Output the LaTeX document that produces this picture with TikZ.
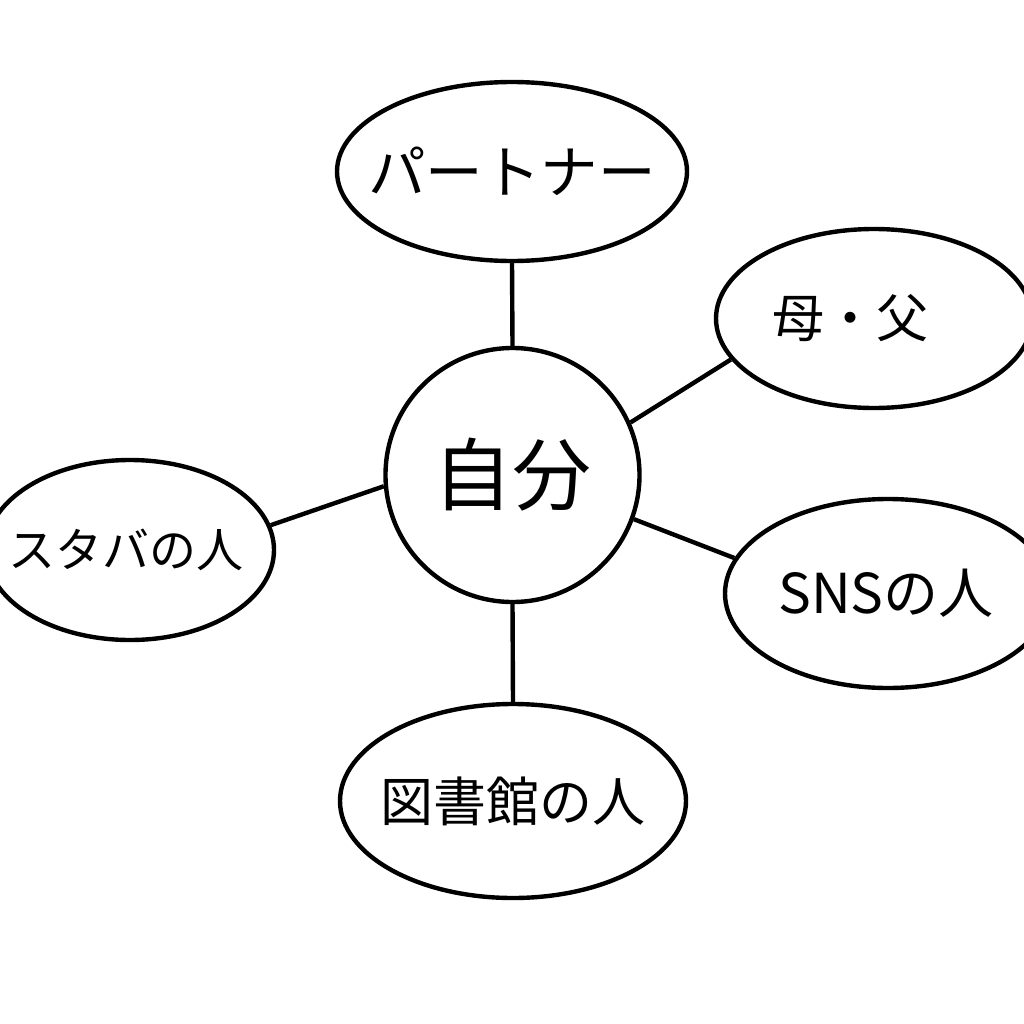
\documentclass[tikz,border=0pt]{standalone}
\usepackage{fontspec}
\setmainfont{Noto Sans CJK JP}
\usetikzlibrary{shapes.geometric}
\newcommand{\zb}[2][0pt]{\makebox[0pt]{\hspace*{#1}#2\hspace*{-#1}}}
\begin{document}
\begin{tikzpicture}[x=1pt,y=-1pt,
  bub/.style={draw=black,line width=4.4pt,ellipse,inner sep=0pt,fill=white,text=black},
  link/.style={draw=black,line width=4.4pt}]
\useasboundingbox[fill=white] (0,0) rectangle (1024,1024);
\node[bub,circle,minimum size=254pt,font=\fontsize{79}{83}\selectfont] (me) at (512.5,475) {\zb{自分}};
\node[bub,minimum width=350pt,minimum height=179pt,font=\fontsize{57.5}{60}\selectfont] (partner) at (512,171.5) {\zb{パートナー}};
\node[bub,minimum width=316pt,minimum height=179pt,font=\fontsize{52}{56}\selectfont] (parents) at (874,318.5) {\zb[-24pt]{母・父}};
\node[bub,minimum width=288pt,minimum height=180pt,font=\fontsize{47}{50}\selectfont] (starbucks) at (130,550) {\zb[-4pt]{スタバの人}};
\node[bub,minimum width=326pt,minimum height=189pt,font=\fontsize{55}{58}\selectfont] (sns) at (888,593.5) {\zb[-2pt]{SNSの人}};
\node[bub,minimum width=346pt,minimum height=194pt,font=\fontsize{53}{57}\selectfont] (library) at (513,801) {\zb{図書館の人}};
\draw[link] (me.north) -- (partner.south);
\draw[link] (me.24.7) -- (parents.196.7);
\draw[link] (me.185.7) -- (starbucks.10);
\draw[link] (me.340.8) -- (sns.167.8);
\draw[link] (me.south) -- (library.north);
\end{tikzpicture}
\end{document}
